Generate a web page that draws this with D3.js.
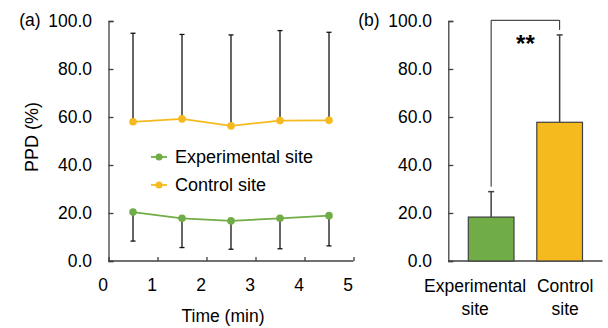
<!DOCTYPE html>
<html><head><meta charset="utf-8">
<script src="https://cdn.jsdelivr.net/npm/d3@7"></script>
<style>
body{margin:0;background:#fff;}
text{font-family:"Liberation Sans",Arial,sans-serif;fill:#000;}
</style></head>
<body><svg id="c" width="608" height="328"></svg>
<script>
// ---- data ----
const times = [0.5, 1.5, 2.5, 3.5, 4.5];
const experimentalMean = [20.4, 17.8, 16.7, 17.8, 18.9];
const experimentalLow  = [8.3, 5.6, 4.9, 5.1, 6.3];
const controlMean = [58.0, 59.2, 56.3, 58.5, 58.6];
const controlHigh = [94.9, 94.4, 94.2, 96.0, 95.3];
const xTicks = [0, 1, 2, 3, 4, 5];
const yTicks = [0, 20, 40, 60, 80, 100];
const seriesNames = ["Experimental site", "Control site"];
const barCategories = ["Experimental site", "Control site"];
const barMeans = [18.3, 57.8];
const barErrHigh = [28.9, 94.2];
const significance = "**";

const green = "#70AD47", yellow = "#F5BA1E", errGray = "#666666", axisCol = "#404040";
const svg = d3.select("#c");
const fmt = d3.format(".1f");

// ---- left panel ----
const xL = d3.scaleLinear().domain([0, 5]).range([108.5, 353.5]);
const y = d3.scaleLinear().domain([0, 100]).range([261, 21]);

const gL = svg.append("g");
// y axis
const yAxL = gL.append("g").attr("transform", `translate(${xL(0)},0)`)
  .call(d3.axisRight(y).tickValues(yTicks).tickSize(5).tickFormat(""));
yAxL.selectAll("path,line").attr("stroke", axisCol).attr("stroke-width", 1.3);
gL.selectAll(".ylab").data(yTicks).join("text")
  .attr("x", 92).attr("y", d => y(d)).attr("dy", "0.36em")
  .attr("text-anchor", "end").style("font-size", "17.5px").text(d => fmt(d));
// x axis
const xAxL = gL.append("g").attr("transform", `translate(0,${y(0)})`)
  .call(d3.axisTop(xL).tickValues(xTicks).tickSize(4).tickFormat(""));
xAxL.selectAll("path,line").attr("stroke", axisCol).attr("stroke-width", 1.3);
xAxL.select("path").attr("d", `M${xL(0)},0H${xL(5)}`);
gL.selectAll(".xlab").data(xTicks).join("text")
  .attr("x", d => xL(d) - 5.5).attr("y", 291)
  .attr("text-anchor", "middle").style("font-size", "17.5px").text(d => d);

gL.append("text").attr("x", 223).attr("y", 322).attr("text-anchor", "middle")
  .style("font-size", "17.5px").text("Time (min)");
gL.append("text").attr("transform", "translate(38,137) rotate(-90)")
  .attr("text-anchor", "middle").style("font-size", "18px").text("PPD (%)");
gL.append("text").attr("x", 30).attr("y", 26).attr("text-anchor", "middle")
  .style("font-size", "17.5px").text("(a)");

// error bars
function errBars(g, means, ends) {
  const d = times.map((t, i) => ({t, m: means[i], e: ends[i]}));
  g.selectAll(null).data(d).join("line")
    .attr("x1", p => xL(p.t)).attr("x2", p => xL(p.t))
    .attr("y1", p => y(p.m)).attr("y2", p => y(p.e))
    .attr("stroke", errGray).attr("stroke-width", 2);
  g.selectAll(null).data(d).join("line")
    .attr("x1", p => xL(p.t) - 2.5).attr("x2", p => xL(p.t) + 2.5)
    .attr("y1", p => y(p.e)).attr("y2", p => y(p.e))
    .attr("stroke", "#111").attr("stroke-width", 1.3);
}
errBars(gL, controlMean, controlHigh);
errBars(gL, experimentalMean, experimentalLow);

const line = d3.line().x((d, i) => xL(times[i])).y(d => y(d));
[[experimentalMean, green], [controlMean, yellow]].forEach(([vals, col]) => {
  gL.append("path").attr("d", line(vals)).attr("fill", "none")
    .attr("stroke", col).attr("stroke-width", 1.8);
  gL.selectAll(null).data(vals).join("circle")
    .attr("cx", (d, i) => xL(times[i])).attr("cy", d => y(d)).attr("r", 3.8)
    .attr("fill", col);
});

// legend
const legCols = [green, yellow];
seriesNames.forEach((name, i) => {
  const ly = 157 + i * 28;
  gL.append("line").attr("x1", 151).attr("x2", 167).attr("y1", ly).attr("y2", ly)
    .attr("stroke", legCols[i]).attr("stroke-width", 1.8);
  gL.append("circle").attr("cx", 159).attr("cy", ly).attr("r", 3.5).attr("fill", legCols[i]);
  gL.append("text").attr("x", 175).attr("y", ly).attr("dy", "0.36em")
    .style("font-size", "18px").text(name);
});

// ---- right panel ----
const xB = d3.scaleBand().domain(barCategories).range([448.3, 602.5])
  .paddingInner(0.333).paddingOuter(0.292);
const gR = svg.append("g");
const yAxR = gR.append("g").attr("transform", "translate(448.3,0)")
  .call(d3.axisRight(y).tickValues(yTicks).tickSize(5).tickFormat(""));
yAxR.selectAll("path,line").attr("stroke", axisCol).attr("stroke-width", 1.3);
gR.selectAll(".ylab").data(yTicks).join("text")
  .attr("x", 432).attr("y", d => y(d)).attr("dy", "0.36em")
  .attr("text-anchor", "end").style("font-size", "17.5px").text(d => fmt(d));
gR.append("line").attr("x1", 448.3).attr("x2", 602.5).attr("y1", y(0)).attr("y2", y(0))
  .attr("stroke", axisCol).attr("stroke-width", 1.3);
gR.append("text").attr("x", 369).attr("y", 26).attr("text-anchor", "middle")
  .style("font-size", "17.5px").text("(b)");

const barCols = [green, yellow];
const cx = c => xB(c) + xB.bandwidth() / 2;
// error bars
barCategories.forEach((c, i) => {
  gR.append("line").attr("x1", cx(c)).attr("x2", cx(c))
    .attr("y1", y(barMeans[i])).attr("y2", y(barErrHigh[i]))
    .attr("stroke", axisCol).attr("stroke-width", 1.5);
  gR.append("line").attr("x1", cx(c) - 3).attr("x2", cx(c) + 3)
    .attr("y1", y(barErrHigh[i])).attr("y2", y(barErrHigh[i]))
    .attr("stroke", axisCol).attr("stroke-width", 1.5);
});
gR.selectAll("rect").data(barCategories).join("rect")
  .attr("x", d => xB(d)).attr("width", xB.bandwidth())
  .attr("y", (d, i) => y(barMeans[i])).attr("height", (d, i) => y(0) - y(barMeans[i]))
  .attr("fill", (d, i) => barCols[i]).attr("stroke", axisCol).attr("stroke-width", 1.2);

// significance bracket
const bx1 = cx(barCategories[0]), bx2 = cx(barCategories[1]);
const topY = y(100) - 0.7;
gR.append("path")
  .attr("d", `M${bx1},${y(barErrHigh[0]) - 5}V${topY}H${bx2}V${y(barErrHigh[1]) - 5}`)
  .attr("fill", "none").attr("stroke", "#222").attr("stroke-width", 1);
gR.append("text").attr("x", (bx1 + bx2) / 2).attr("y", 52).attr("text-anchor", "middle")
  .style("font-size", "24px").style("font-weight", "bold").text(significance);

// category labels
const labelShift = [-16, 5.5];
barCategories.forEach((c, i) => {
  const words = c.split(" ");
  const t = gR.append("text").attr("x", cx(c) + labelShift[i]).attr("y", 292)
    .attr("text-anchor", "middle").style("font-size", "17.5px");
  t.append("tspan").attr("x", cx(c) + labelShift[i]).text(words.slice(0, -1).join(" "));
  t.append("tspan").attr("x", cx(c) + labelShift[i]).attr("dy", 23).text(words[words.length - 1]);
});
</script></body></html>
